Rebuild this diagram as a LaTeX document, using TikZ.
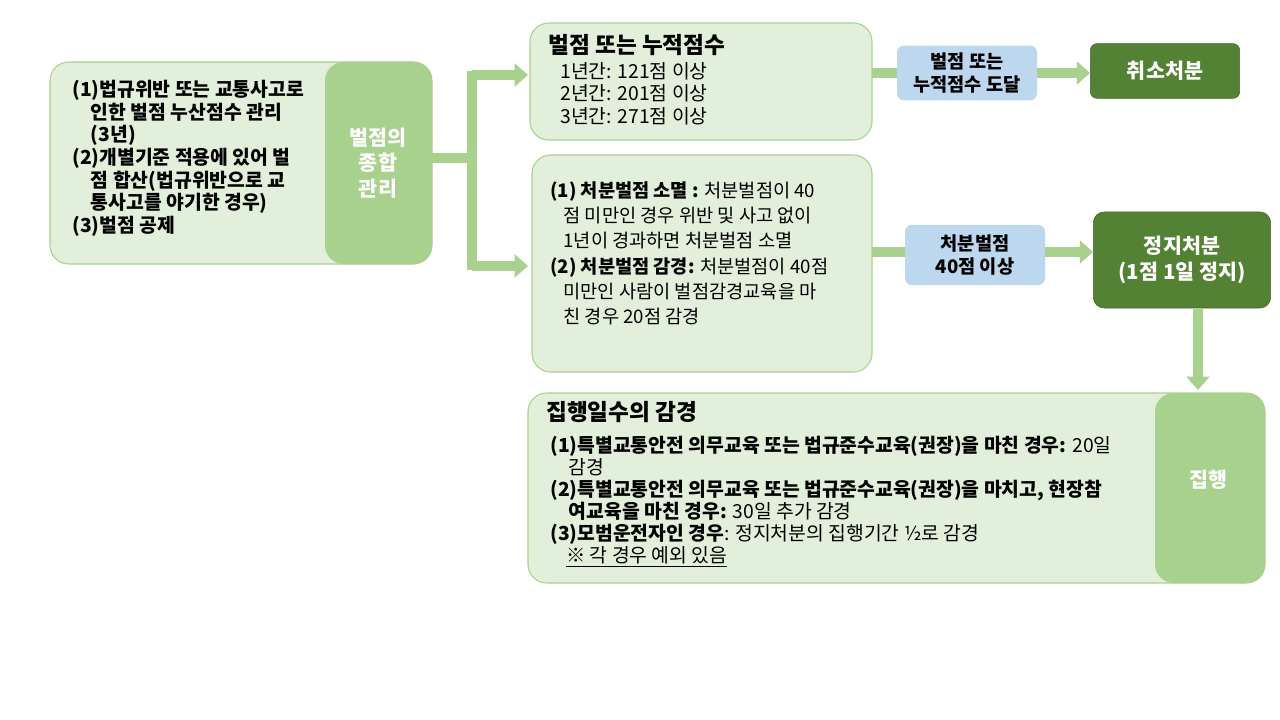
\documentclass[tikz,border=0pt]{standalone}
\usepackage{fontspec}
\setmainfont{Noto Sans CJK KR}
\usetikzlibrary{arrows.meta}
\definecolor{lg}{HTML}{E2EFDA}
\definecolor{mg}{HTML}{A9D18E}
\definecolor{dg}{HTML}{548235}
\definecolor{lb}{HTML}{BDD7EE}
\begin{document}
\begin{tikzpicture}[x=0.75pt,y=-0.75pt,
  lbox/.style={draw=mg,fill=lg,rounded corners=14pt,line width=0.8pt},
  conn/.style={draw=mg,line width=7.5pt},
  arr/.style={draw=mg,line width=7.5pt,-{Triangle[width=17pt,length=10pt]}},
  t/.style={font=\fontsize{14.5}{17}\selectfont,anchor=north west,inner sep=0pt,align=left},
  wt/.style={font=\fontsize{15.5}{19}\selectfont\bfseries,text=white,align=center}]
\useasboundingbox (0,0) rectangle (1280,720);
% left box
\draw[lbox] (50,62) rectangle (432,264);
\fill[mg,rounded corners=14pt] (325,62) rectangle (432,264);
\node[wt] (lbl) at (378,163) {벌점의\\종합\\관리};
\node[t] (ltxt) at (72,80) {\bfseries(1)법규위반 또는 교통사고로\\\bfseries\hspace{14pt}인한 벌점 누산점수 관리\\\bfseries\hspace{14pt}(3년)\\\bfseries(2)개별기준 적용에 있어 벌\\\bfseries\hspace{14pt}점 합산(법규위반으로 교\\\bfseries\hspace{14pt}통사고를 야기한 경우)\\\bfseries(3)벌점 공제};
\coordinate (j) at (472,158);
\coordinate (jt) at (472,75);
\coordinate (jb) at (472,266);
\draw[conn] (432,158) -- (j);
\draw[conn] (472,71) -- (472,270);
% top box
\draw[lbox] (530,23) rectangle (872,140);
\node[t,font=\fontsize{17}{20}\selectfont\bfseries] (tt) at (548,34) {벌점 또는 누적점수};
\node[t] (tl) at (560,62) {1년간: 121점 이상\\2년간: 201점 이상\\3년간: 271점 이상};
\draw[arr] (jt) -- (528,75);
% middle box
\draw[lbox] (532,155) rectangle (872,372);
\node[t,font=\fontsize{14}{19}\selectfont] (mt) at (550,181) {\textbf{(1) 처분벌점 소멸 :} 처분벌점이 40\\\hspace{10pt}점 미만인 경우 위반 및 사고 없이\\\hspace{10pt}1년이 경과하면 처분벌점 소멸\\\textbf{(2) 처분벌점 감경:} 처분벌점이 40점\\\hspace{10pt}미만인 사람이 벌점감경교육을 마\\\hspace{10pt}친 경우 20점 감경};
\draw[arr] (jb) -- (528,266);
% top right chain
\node[fill=lb,rounded corners=5pt,minimum width=105pt,minimum height=41pt,align=center,font=\fontsize{14}{17}\selectfont\bfseries] (b1) at (967,73) {벌점 또는\\누적점수 도달};
\node[fill=dg,draw=dg!80!black,rounded corners=5pt,minimum width=112pt,minimum height=41pt,wt] (c1) at (1165,71) {취소처분};
\draw[conn] (872,73) -- (b1.west |- 0,73);
\draw[arr] (b1.east |- 0,73) -- (c1.west |- 0,73);
% middle chain
\node[fill=lb,rounded corners=5pt,minimum width=105pt,minimum height=45pt,align=center,font=\fontsize{14}{17}\selectfont\bfseries] (b2) at (975,255) {처분벌점\\40점 이상};
\node[fill=dg,draw=dg!80!black,rounded corners=8pt,minimum width=133pt,minimum height=72pt,wt] (c2) at (1182,260) {정지처분\\(1점 1일 정지)};
\draw[conn] (872,252) -- (b2.west |- 0,252);
\draw[arr] (b2.east |- 0,252) -- (c2.west |- 0,252);
\coordinate (d1) at (1198,308);
\coordinate (d2) at (1198,390);
\draw[arr] (d1) -- (d2);
% bottom box
\draw[lbox] (528,393) rectangle (1265,583);
\fill[mg,rounded corners=14pt] (1155,393) rectangle (1265,583);
\node[wt] (ex) at (1208,480) {집행};
\node[t,font=\fontsize{17}{20}\selectfont\bfseries] (bt) at (546,401) {집행일수의 감경};
\node[t,font=\fontsize{14.5}{16.5}\selectfont] (bl) at (550,436) {\textbf{(1)특별교통안전 의무교육 또는 법규준수교육(권장)을 마친 경우:} 20일\\\hspace{14pt}감경\\\textbf{(2)특별교통안전 의무교육 또는 법규준수교육(권장)을 마치고, 현장참}\\\hspace{14pt}\textbf{여교육을 마친 경우:} 30일 추가 감경\\\textbf{(3)모범운전자인 경우}: 정지처분의 집행기간 ½로 감경\\\hspace{12pt}\underline{※ 각 경우 예외 있음}};
\end{tikzpicture}
\end{document}
